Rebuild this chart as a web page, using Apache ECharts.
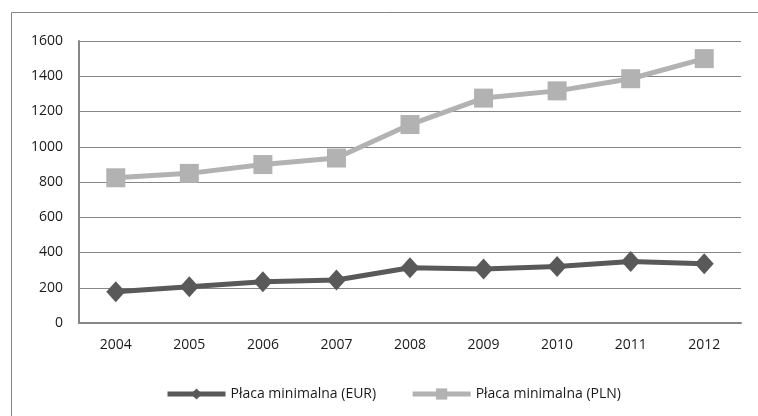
<!DOCTYPE html>
<html>
<head>
<meta charset="utf-8">
<script src="https://cdn.jsdelivr.net/npm/echarts@6/dist/echarts.min.js"></script>
<style>
  html, body { margin: 0; padding: 0; background: #fff; }
  #chart { width: 758px; height: 416px; }
</style>
</head>
<body>
<div id="chart"></div>
<script>
// lata
const years = ['2004', '2005', '2006', '2007', '2008', '2009', '2010', '2011', '2012']
// płaca minimalna w EUR
const eurValues = [177, 206, 234, 244, 313, 307, 321, 349, 336]
// płaca minimalna w PLN
const plnValues = [824, 849, 899, 936, 1126, 1276, 1317, 1386, 1500]
const seriesNames = ['Płaca minimalna (EUR)', 'Płaca minimalna (PLN)']

const font = '"Open Sans", sans-serif'
const myChart = echarts.init(document.getElementById('chart'))

const option = {
  backgroundColor: '#fff',
  animation: false,
  graphic: [{
    type: 'rect',
    shape: { x: 11.5, y: 12.5, width: 800, height: 450 },
    style: { fill: 'none', stroke: '#868686', lineWidth: 1 },
    silent: true
  }],
  grid: { left: 79, right: 17, top: 41, bottom: 93 },
  legend: {
    left: 160,
    top: 382,
    itemWidth: 58,
    itemHeight: 14,
    itemGap: 34,
    textStyle: { fontFamily: font, fontSize: 14, color: '#1a1a1a' },
    data: [
      { name: seriesNames[0], lineStyle: { width: 5 } },
      { name: seriesNames[1], lineStyle: { width: 5 } }
    ]
  },
  xAxis: {
    type: 'category',
    data: years,
    boundaryGap: true,
    axisLine: { lineStyle: { color: '#868686', width: 2 } },
    axisTick: { show: false },
    axisLabel: { margin: 15, fontFamily: font, fontSize: 14, color: '#1a1a1a' }
  },
  yAxis: {
    type: 'value',
    min: 0,
    max: 1600,
    interval: 200,
    axisLine: { show: true, lineStyle: { color: '#868686', width: 2 } },
    axisTick: { show: false },
    axisLabel: {
      margin: 16, fontFamily: font, fontSize: 14, color: '#1a1a1a',
      formatter: v => String(v)
    },
    splitLine: { lineStyle: { color: '#868686', width: 1 } }
  },
  series: [
    {
      name: seriesNames[0],
      type: 'line',
      data: eurValues,
      symbol: 'diamond',
      symbolSize: [19, 21],
      lineStyle: { color: '#595959', width: 5 },
      itemStyle: { color: '#595959' }
    },
    {
      name: seriesNames[1],
      type: 'line',
      data: plnValues,
      symbol: 'rect',
      symbolSize: 19,
      lineStyle: { color: '#b2b2b2', width: 5 },
      itemStyle: { color: '#b2b2b2' }
    }
  ]
}

myChart.setOption(option)
window.addEventListener('resize', myChart.resize)
</script>
</body>
</html>
